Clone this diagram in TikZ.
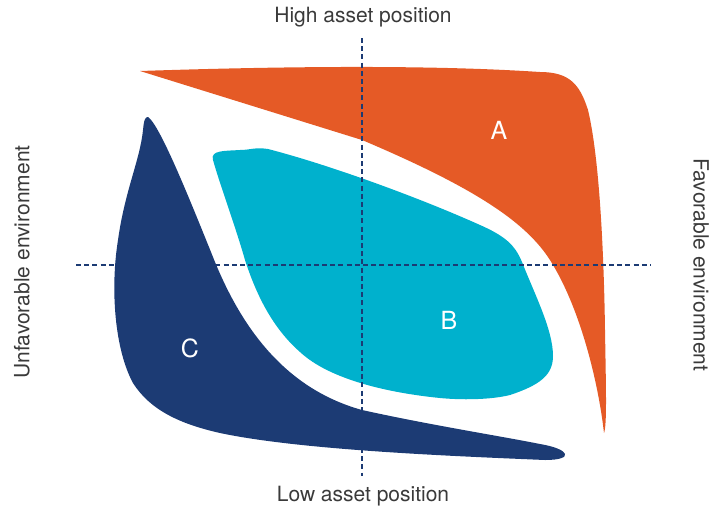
\documentclass[tikz,border=0pt]{standalone}
\usepackage{fontspec}
\setmainfont{TeX Gyre Heros}
\usepackage{tikz}
\usepackage{xcolor}
\usetikzlibrary{positioning}

\definecolor{regA}{HTML}{E55A26}
\definecolor{regB}{HTML}{00B1CD}
\definecolor{regC}{HTML}{1C3B74}
\definecolor{txtgray}{HTML}{3A3A3A}

\begin{document}
\begin{tikzpicture}[x=0.5pt,y=-0.5pt,
  axis/.style={regC,line width=1.2pt,dash pattern=on 2.5pt off 1.6pt},
  side/.style={txtgray,font=\fontsize{10.5}{12}\selectfont},
  region/.style={white,font=\fontsize{12.5}{14}\selectfont}]

\useasboundingbox (0,0) rectangle (723,509);

\fill[regA] (140,71) .. controls (260,67) and (420,64) .. (540,72)
  .. controls (570,72) and (580,85) .. (588,110)
  .. controls (600,160) and (604,260) .. (605,330)
  .. controls (606,390) and (607,425) .. (604,433)
  .. controls (598,380) and (580,310) .. (553,265)
  .. controls (530,225) and (480,190) .. (362,140) -- cycle;

\fill[regB] (213,160) .. controls (210,150) and (225,151) .. (240,150)
  .. controls (250,150) and (255,147) .. (268,149)
  .. controls (330,165) and (420,198) .. (480,225)
  .. controls (505,236) and (515,245) .. (522,262)
  .. controls (535,295) and (553,330) .. (553,356)
  .. controls (553,375) and (540,385) .. (510,395)
  .. controls (490,400) and (460,400) .. (440,398)
  .. controls (390,393) and (330,380) .. (300,352)
  .. controls (275,330) and (258,300) .. (245,260)
  .. controls (235,225) and (220,185) .. (213,160) -- cycle;

\fill[regC] (148,117) .. controls (160,125) and (190,200) .. (215,262)
  .. controls (245,335) and (290,390) .. (362,410)
  .. controls (430,425) and (500,436) .. (540,444)
  .. controls (570,449) and (575,460) .. (545,460)
  .. controls (450,456) and (300,450) .. (220,433)
  .. controls (180,424) and (150,410) .. (133,383)
  .. controls (115,350) and (110,290) .. (118,240)
  .. controls (125,190) and (140,160) .. (143,130)
  .. controls (144,120) and (145,117) .. (148,117) -- cycle;

\coordinate (top) at (362,38);
\coordinate (bottom) at (362,476);
\coordinate (left) at (76,265);
\coordinate (right) at (651,265);

\draw[axis] (top) -- (bottom);
\draw[axis] (left) -- (right);

\node[side] (high) at (363,17) {High asset position};
\node[side] (low) at (363,496) {Low asset position};
\node[side,rotate=90] (unfav) at (22,262) {Unfavorable environment};
\node[side,rotate=-90] (fav) at (701,265) {Favorable environment};

\node[region] (a) at (499,130) {A};
\node[region] (b) at (449,320) {B};
\node[region] (c) at (190,348) {C};

\end{tikzpicture}
\end{document}
